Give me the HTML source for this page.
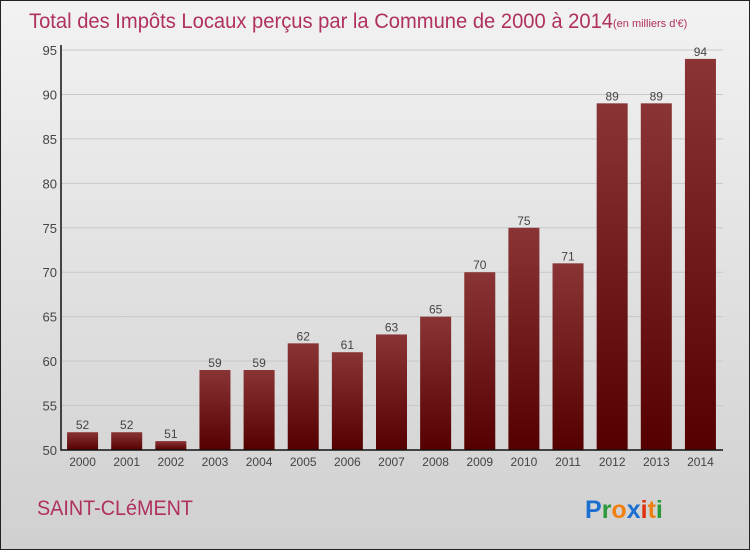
<!DOCTYPE html>
<html><head><meta charset="utf-8"><style>
body{margin:0;width:750px;height:550px;overflow:hidden}
#c{position:absolute;left:0;top:0;width:748px;height:548px;border:1px solid #222;background:linear-gradient(#f2f2f2,#d0d0d0)}
text{font-family:"Liberation Sans",sans-serif}
</style></head><body>
<div id="c">
<svg id="s" width="748" height="548" xmlns="http://www.w3.org/2000/svg">
<defs><linearGradient id="g" x1="0" y1="0" x2="0" y2="1"><stop offset="0" stop-color="#8a3436"/><stop offset="1" stop-color="#550000"/></linearGradient></defs>
<text x="28" y="27" font-size="21" fill="#b03060" textLength="584" lengthAdjust="spacingAndGlyphs">Total des Impôts Locaux perçus par la Commune de 2000 à 2014</text>
<text x="612" y="26" font-size="11" fill="#b03060">(en milliers d'€)</text>
<text x="36" y="514" font-size="21" fill="#b03060" textLength="156" lengthAdjust="spacingAndGlyphs">SAINT-CLéMENT</text>
<text x="584" y="517" font-size="25" font-weight="bold"><tspan fill="#1a6fd0">P</tspan><tspan fill="#2a9a3a">r</tspan><tspan fill="#f08010">o</tspan><tspan fill="#1a6fd0">x</tspan><tspan fill="#e03010">i</tspan><tspan fill="#f08010">t</tspan><tspan fill="#2a9a3a">i</tspan></text>
<g id="plot"></g>
</svg></div>
<script>
const years=["2000","2001","2002","2003","2004","2005","2006","2007","2008","2009","2010","2011","2012","2013","2014"];
const values=[52,52,51,59,59,62,61,63,65,70,75,71,89,89,94];
const yTicks=[50,55,60,65,70,75,80,85,90,95];
const ns="http://www.w3.org/2000/svg";
const g=document.getElementById('plot');
const x0=60,x1=722,yb=449,yt=49,vmin=50,vmax=95;
const y=v=>yb-(v-vmin)/(vmax-vmin)*(yb-yt);
const step=(x1-x0)/years.length;
const xc=i=>x0+step*(i+0.5)-0.5;
function el(t,a){const e=document.createElementNS(ns,t);for(const k in a)e.setAttribute(k,a[k]);g.appendChild(e);return e;}
yTicks.forEach(v=>{
 const l=el('line',{x1:x0,x2:x1,y1:y(v),y2:y(v),stroke:'#c8c8c8','stroke-width':1});
 
 
 const t=el('text',{x:x0-4,y:y(v)+5,'font-size':13,fill:'#444','text-anchor':'end'});
 t.textContent=v;
 
 
});
years.forEach((yr,i)=>{
 const v=values[i];
 const r=el('rect',{x:xc(i)-15.5,y:y(v),width:31,height:yb-y(v),fill:'url(#g)'});
 
 
 const t=el('text',{x:xc(i),y:y(v)-3,'font-size':12,fill:'#444','text-anchor':'middle'});
 t.textContent=v;
 
 
 const xt=el('text',{x:xc(i),y:yb+16,'font-size':12,fill:'#444','text-anchor':'middle'});
 xt.textContent=yr;
 
 
});
const ax=el('path',{d:`M${x0} ${yt-5}V${yb}H${x1}`,stroke:'#111',fill:'none','stroke-width':1.5});


</script>
</body></html>
